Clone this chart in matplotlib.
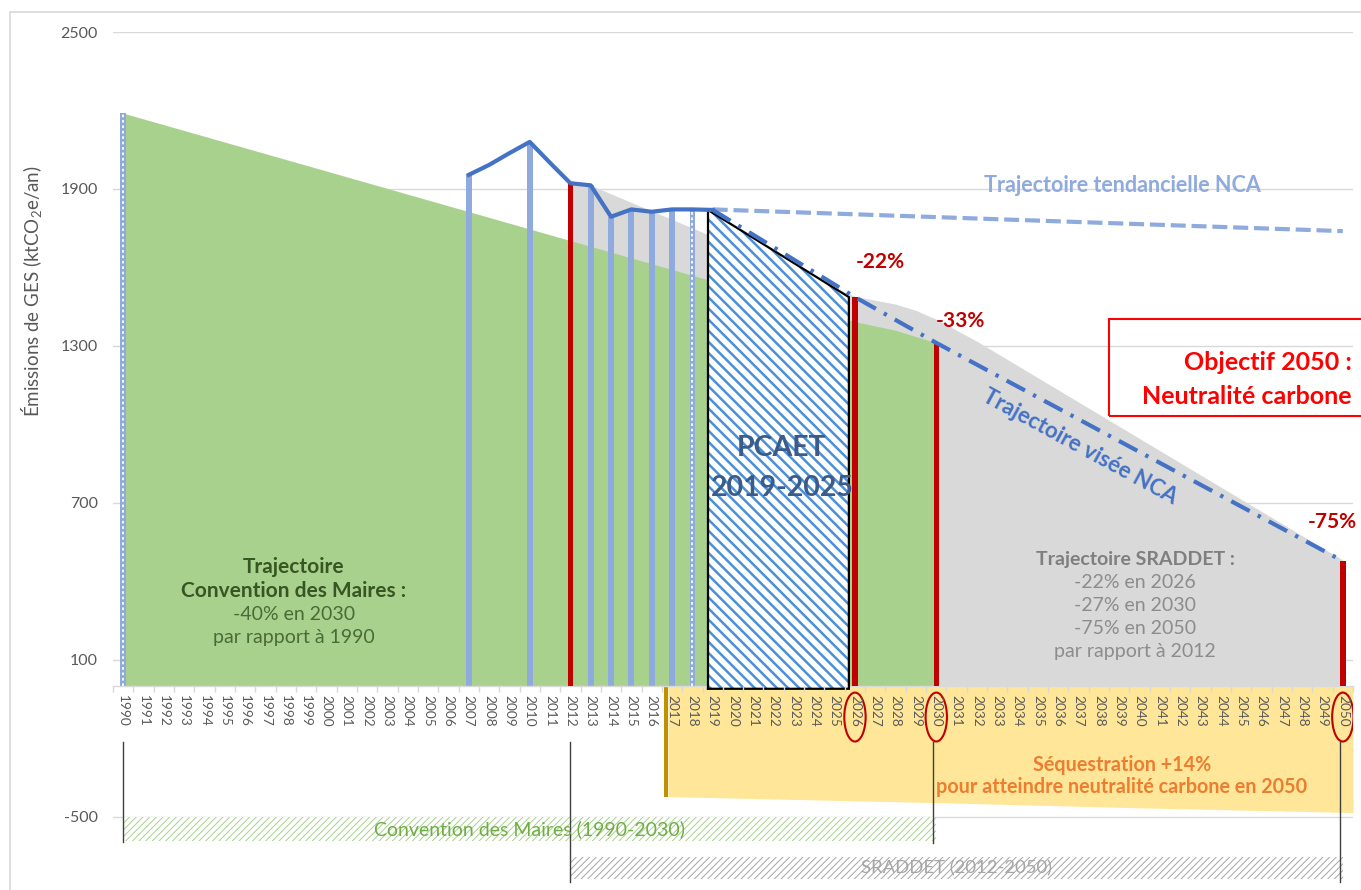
import numpy as np
import matplotlib
matplotlib.use('Agg')
import matplotlib.pyplot as plt
from matplotlib.patches import Ellipse, Rectangle

plt.rcParams['font.family'] = ['Lato', 'DejaVu Sans']
plt.rcParams['mathtext.default'] = 'regular'
plt.rcParams['hatch.linewidth'] = 1.0

# ---------------- data ----------------
years = list(range(1990, 2051))
hist_years = [2007, 2008, 2009, 2010, 2011, 2012, 2013, 2014, 2015, 2016, 2017, 2018, 2019]
hist_values = [1954, 1992, 2037, 2080, 2000, 1922, 1914, 1794, 1822, 1813, 1822, 1822, 1820]
bar_years = [2007, 2010, 2013, 2014, 2015, 2016, 2017]
dashed_bar_years = [1990, 2018]
cdm_years = [1990, 2026, 2028, 2030]
cdm_values = [2190, 1393, 1360, 1312]
sraddet_years = [2012, 2013, 2026, 2028, 2029, 2030, 2031, 2032, 2050]
sraddet_values = [1922, 1914, 1490, 1460, 1436, 1402, 1360, 1318, 482]
visee_years = [2019, 2026, 2030, 2050]
visee_values = [1820, 1487, 1312, 478]
tend_years = [2019, 2050]
tend_values = [1822, 1739]
milestone_years = [2012, 2026, 2030, 2050]
milestone_values = [1922, 1487, 1312, 478]
seq_years = [2017, 2030, 2040, 2050]
seq_values = [-422, -445, -465, -483]
pcaet_years = [2019, 2026]
circled_years = [2026, 2030, 2050]
gantt_names = ['Convention des Maires (1990-2030)', 'SRADDET (2012-2050)']
gantt_start = [1990, 2012]
gantt_end = [2030, 2050]
yticks = [-500, 100, 700, 1300, 1900, 2500]

hist = dict(zip(hist_years, hist_values))
hist[1990] = cdm_values[0]

# ---------------- figure ----------------
W, H = 1361, 890
fig = plt.figure(figsize=(W / 100, H / 100), dpi=100)
ax = fig.add_axes([113 / W, 0.0, (1353 - 113) / W, 1 - 32 / H])
ax.set_xlim(1989.5, 2050.5)
ax.set_ylim(-779, 2500)
for s in ['top', 'right', 'left']:
    ax.spines[s].set_visible(False)
ax.spines['bottom'].set_position(('data', 0))
ax.spines['bottom'].set_color('#D9D9D9')
ax.spines['bottom'].set_linewidth(1)
ax.spines['bottom'].set_zorder(2)
ax.patch.set_visible(False)


def ftxt(px, py, s, **kw):
    return fig.text(px / W, 1 - py / H, s, **kw)


# outer frame
fig.patches.append(Rectangle((10 / W, -0.05), 1.2, 1 - 12 / H + 0.05, transform=fig.transFigure,
                             fill=False, edgecolor='#D9D9D9', lw=1.2))

# horizontal gridlines (drawn beneath everything)
for v in yticks:
    ax.axhline(v, color='#D9D9D9', lw=1, zorder=0.5)

# gray SRADDET area then green Convention des Maires area
ax.fill_between(sraddet_years, 0, sraddet_values, color='#D9D9D9', lw=0, zorder=1)
ax.fill_between(cdm_years, 0, cdm_values, color='#A9D18E', lw=0, zorder=1.1)

# sequestration (negative) area
sx = np.array(seq_years, dtype=float)
sx[0] -= 0.2
sx[-1] += 0.5
ax.fill_between(sx, 0, seq_values, color='#FFE699', lw=0, zorder=1)
ax.bar([seq_years[0] - 0.3], [seq_values[0]], width=0.22, color='#BF9000', lw=0, zorder=2)

# historical bars
bw = 0.3
ax.bar(bar_years, [hist[y] for y in bar_years], width=bw, color='#8FAADC', lw=0, zorder=2)
ax.bar(dashed_bar_years, [hist[y] for y in dashed_bar_years], width=0.27, color='#8FAADC', lw=0, zorder=2)
ax.vlines(dashed_bar_years, 0, [hist[y] for y in dashed_bar_years], colors='white', lw=1.3,
          linestyles=(0, (1.5, 1.5)), zorder=2.1)
# milestone red bars
ax.bar(milestone_years, milestone_values, width=0.27, color='#C00000', lw=0, zorder=2.2)

# PCAET hatched polygon
vis = dict(zip(visee_years, visee_values))
px0, px1 = pcaet_years[0] - 0.23, pcaet_years[1] - 0.3
pxs = [px0, px0, px1, px1]
pys = [-10, vis[pcaet_years[0]], vis[pcaet_years[1]], -10]
polys = ax.fill(pxs, pys, facecolor='white', edgecolor='#4A90D9', hatch='\\\\\\', lw=0, zorder=3)
for p in polys:
    try:
        p.set_hatch_linewidth(1.8)
    except Exception:
        pass
ax.plot(pxs + [pxs[0]], pys + [pys[0]], color='black', lw=1.6, zorder=3.1, solid_joinstyle='miter')

# lines
ax.plot(tend_years, tend_values, color='#8FAADC', lw=3, linestyle=(0, (3.6, 1.4)), zorder=4)
ax.plot(visee_years, visee_values, color='#4472C4', lw=3, linestyle=(0, (5, 2.2, 0.8, 2.2)), zorder=4)
ax.plot(hist_years, hist_values, color='#4472C4', lw=3, zorder=4.5, solid_joinstyle='round')

# gantt bars
gantt_y = [-545, -695]
gantt_h = [90, 84]
gantt_cols = ['#A9D18E', '#A6A6A6']
gantt_txt = ['#70AD47', '#A6A6A6']
gantt_fs = [14, 13.3]
for i in range(2):
    b = ax.barh([gantt_y[i]], [gantt_end[i] - gantt_start[i]], left=[gantt_start[i]], height=gantt_h[i],
                facecolor='white', edgecolor=gantt_cols[i], hatch='/////', lw=0, zorder=2)
    for p in b:
        try:
            p.set_hatch_linewidth(0.7)
        except Exception:
            pass
    ax.text((gantt_start[i] + gantt_end[i]) / 2, gantt_y[i], gantt_names[i], ha='center', va='center',
            color=gantt_txt[i], fontsize=gantt_fs[i], zorder=3)

# connector lines
conn_bottom = {1990: -595, 2012: -748, 2030: -598, 2050: -748}
for yr in [1990, 2012, 2030, 2050]:
    ax.plot([yr - 0.15 if yr in (2030, 2050) else yr] * 2, [-213, conn_bottom[yr]], color='#404040',
            lw=1, zorder=2.5)

# ellipses around tick labels
for yr in circled_years:
    ax.add_patch(Ellipse((yr, -118), 1.05, 187, fill=False, edgecolor='#C00000', lw=1.5, zorder=5))

# axes styling
ax.set_xticks(years)
ax.set_xticklabels([str(y) for y in years])
ax.set_xticks(np.arange(1989.5, 2051, 1), minor=True)
ax.tick_params(axis='x', which='major', length=0, pad=6.5, labelrotation=-90, labelsize=9.8,
               labelcolor='#595959')
ax.tick_params(axis='x', which='minor', length=4, color='#D9D9D9', width=1)
ax.set_yticks(yticks)
ax.set_yticklabels([str(v) for v in yticks])
ax.tick_params(axis='y', length=0, pad=11, labelsize=11.5, labelcolor='#595959')
ax.grid(False)
ax.xaxis.set_zorder(6)
ax.yaxis.set_zorder(6)

# y label
ftxt(32, 291, 'Émissions de GES (ktCO$_2$e/an)', rotation=90, ha='center', va='center',
     fontsize=13.5, color='#595959')

# annotations
ftxt(1122, 186, 'Trajectoire tendancielle NCA', ha='center', va='center', fontsize=15.5,
     fontweight='bold', color='#8FAADC')
ftxt(1080, 447, 'Trajectoire visée NCA', ha='center', va='center', fontsize=16, fontweight='bold',
     color='#4472C4', rotation=-28.5, rotation_mode='anchor')
ftxt(880, 262, '-22%', ha='center', va='center', fontsize=15, fontweight='bold', color='#C00000')
ftxt(960, 321, '-33%', ha='center', va='center', fontsize=15, fontweight='bold', color='#C00000')
ftxt(1332, 522, '-75%', ha='center', va='center', fontsize=15, fontweight='bold', color='#C00000')
ftxt(782, 448, 'PCAET', ha='center', va='center', fontsize=20.5, fontweight='bold', color='#3B5B8A')
ftxt(782, 488, '2019-2025', ha='center', va='center', fontsize=20.5, fontweight='bold', color='#3B5B8A')

fig.patches.append(Rectangle((1109 / W, 1 - 416 / H), 300 / W, 97 / H, transform=fig.transFigure,
                             fill=False, edgecolor='#FF0000', lw=1.5))
ftxt(1352, 362, 'Objectif 2050 :', ha='right', va='center', fontsize=18, fontweight='bold', color='#FF0000')
ftxt(1352, 396, 'Neutralité carbone', ha='right', va='center', fontsize=18, fontweight='bold', color='#FF0000')

ftxt(294, 567, 'Trajectoire', ha='center', va='center', fontsize=15, fontweight='bold', color='#375623')
ftxt(294, 591, 'Convention des Maires :', ha='center', va='center', fontsize=15, fontweight='bold',
     color='#375623')
ftxt(294, 615, '-40% en 2030', ha='center', va='center', fontsize=14, color='#4A6B35')
ftxt(294, 637, 'par rapport à 1990', ha='center', va='center', fontsize=14, color='#4A6B35')

ftxt(1135, 559, 'Trajectoire SRADDET :', ha='center', va='center', fontsize=14, fontweight='bold',
     color='#7F7F7F')
for i, s in enumerate(['-22% en 2026', '-27% en 2030', '-75% en 2050', 'par rapport à 2012']):
    ftxt(1135, 583 + 22.7 * i, s, ha='center', va='center', fontsize=14, color='#8C8C8C')

ftxt(1122, 765, 'Séquestration +14%', ha='center', va='center', fontsize=14.2, fontweight='bold',
     color='#ED7D31')
ftxt(1122, 787, 'pour atteindre neutralité carbone en 2050', ha='center', va='center', fontsize=14.2,
     fontweight='bold', color='#ED7D31')

fig.savefig('out.png', dpi=100)
